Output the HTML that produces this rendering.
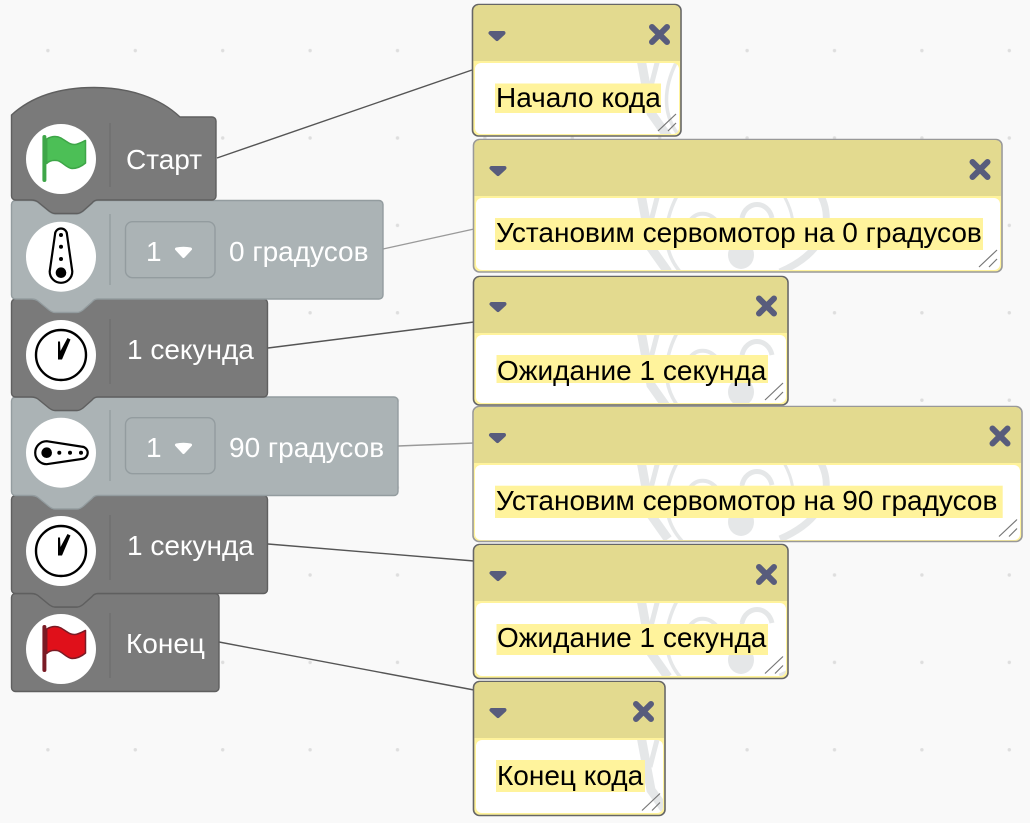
<!DOCTYPE html>
<html><head><meta charset="utf-8"><style>
html,body{margin:0;padding:0;background:#f9f9f9;width:1030px;height:823px;overflow:hidden}
svg{display:block;position:absolute;left:0;top:0}
.b{font-family:"Liberation Sans",sans-serif;font-size:28px;fill:#fff}
.c{font-family:"Liberation Sans",sans-serif;font-size:28px;fill:#000}
</style></head><body>
<svg width="1030" height="823" viewBox="0 0 1030 823" xmlns="http://www.w3.org/2000/svg">
<defs>
<pattern id="dots" x="47.9" y="50.6" width="87.4" height="87.4" patternUnits="userSpaceOnUse" patternTransform="translate(-43.7 -43.7)"><circle cx="43.7" cy="43.7" r="1.7" fill="#dedede"/></pattern>
<g id="caret"><path d="M3 3H16L9.500 9Z" fill="#585c7c" stroke="#585c7c" stroke-width="4" stroke-linejoin="round"/></g>
<g id="x"><path d="M-7.500 -7.500L7.500 7.500M7.500 -7.500L-7.500 7.500" stroke="#585c7c" stroke-width="6" stroke-linecap="round"/></g>
<g id="grip"><path d="M-23 -5L-5 -22M-13 -5L-5 -13" stroke="#777" stroke-width="1.200" fill="none"/></g>
<g id="wm" fill="none" stroke="#e5e7e8">
<path d="M641 54L651 108L668 132" stroke-width="9"/>
<path d="M658 54L650 85" stroke-width="5"/>
<path d="M678 54C664 80 660 110 682 134" stroke-width="3.500"/>
<path d="M688 84C694 70 712 70 720 86" stroke-width="4"/>
<path d="M742 78C746 60 768 60 772 78" stroke-width="5"/>
<path d="M742 78C740 95 738 105 735 115" stroke-width="4"/>
<ellipse cx="741" cy="115" rx="13" ry="14" fill="#e5e7e8" stroke="none"/>
<path d="M783 54C792 70 796 85 790 100" stroke-width="3"/>
<path d="M820 54C834 80 826 112 780 132" stroke-width="7"/>
</g>
<g id="clock"><circle r="25" fill="#fff" stroke="#000" stroke-width="2.400"/><path d="M-3 4.500L-3 -13.500L-1 -13.500L-0.500 -4L6.500 -17L9.500 -15.500L1 4.500Z" fill="#000"/></g>
<clipPath id="c1"><rect x="475" y="63" width="204" height="71" rx="6"/></clipPath>
<clipPath id="c2"><rect x="476" y="198" width="524" height="72" rx="6"/></clipPath>
<clipPath id="c3"><rect x="476" y="335" width="310" height="68" rx="6"/></clipPath>
<clipPath id="c4"><rect x="475" y="465" width="545" height="75" rx="6"/></clipPath>
<clipPath id="c5"><rect x="476" y="603" width="310" height="73" rx="6"/></clipPath>
<clipPath id="c6"><rect x="476" y="740" width="187" height="73" rx="6"/></clipPath>
</defs>
<rect width="1030" height="823" fill="#f9f9f9"/>
<rect width="1030" height="823" fill="url(#dots)"/>

<g fill="none" stroke-width="1.400">
<path d="M217 158L472 70" stroke="#555"/>
<path d="M383 249L474 229" stroke="#9a9a9a"/>
<path d="M268 348L474 322" stroke="#555"/>
<path d="M398 446L474 443" stroke="#9a9a9a"/>
<path d="M268 544L474 561" stroke="#555"/>
<path d="M219 642L474 690" stroke="#555"/>
</g>

<!-- blocks bottom to top -->
<path d="M11.500 597.500a4 4 0 0 1 4-4H31c3 0 5 .5 7 2l11 9c2 1.500 3.500 2.500 6 2.500H77c2.500 0 4-1 6-2.500l9-8c1.500-2 3.500-3 6-3H215a4 4 0 0 1 4 4V687.500a4 4 0 0 1-4 4H15.500a4 4 0 0 1-4-4Z" fill="#7a7a7a" stroke="#5f5f5f" stroke-width="1.400"/>
<path d="M11.500 499.500a4 4 0 0 1 4-4H31c3 0 5 .5 7 2l11 9c2 1.500 3.500 2.500 6 2.500H77c2.500 0 4-1 6-2.500l9-8c1.500-2 3.500-3 6-3H263.500a4 4 0 0 1 4 4V589.500a4 4 0 0 1-4 4H98c-2.500 0-4.500 1-6 3l-9 8c-2 1.500-3.500 2.500-6 2.500H55c-2.500 0-4-1-6-2.500l-11-9c-2-1.500-4-2-7-2H15.500a4 4 0 0 1-4-4Z" fill="#7a7a7a" stroke="#5f5f5f" stroke-width="1.400"/>
<path d="M11.500 401a4 4 0 0 1 4-4H31c3 0 5 .5 7 2l11 9c2 1.500 3.500 2.500 6 2.500H77c2.500 0 4-1 6-2.500l9-8c1.500-2 3.500-3 6-3H394a4 4 0 0 1 4 4V491.500a4 4 0 0 1-4 4H98c-2.500 0-4.500 1-6 3l-9 8c-2 1.500-3.500 2.500-6 2.500H55c-2.500 0-4-1-6-2.500l-11-9c-2-1.500-4-2-7-2H15.500a4 4 0 0 1-4-4Z" fill="#abb3b5" stroke="#939c9f" stroke-width="1.400"/>
<path d="M11.500 303a4 4 0 0 1 4-4H31c3 0 5 .5 7 2l11 9c2 1.500 3.500 2.500 6 2.500H77c2.500 0 4-1 6-2.500l9-8c1.500-2 3.500-3 6-3H263.500a4 4 0 0 1 4 4V393a4 4 0 0 1-4 4H98c-2.500 0-4.500 1-6 3l-9 8c-2 1.500-3.500 2.500-6 2.500H55c-2.500 0-4-1-6-2.500l-11-9c-2-1.500-4-2-7-2H15.500a4 4 0 0 1-4-4Z" fill="#7a7a7a" stroke="#5f5f5f" stroke-width="1.400"/>
<path d="M11.500 204.500a4 4 0 0 1 4-4H31c3 0 5 .5 7 2l11 9c2 1.500 3.500 2.500 6 2.500H77c2.500 0 4-1 6-2.500l9-8c1.500-2 3.500-3 6-3H379a4 4 0 0 1 4 4V295a4 4 0 0 1-4 4H98c-2.500 0-4.500 1-6 3l-9 8c-2 1.500-3.500 2.500-6 2.500H55c-2.500 0-4-1-6-2.500l-11-9c-2-1.500-4-2-7-2H15.500a4 4 0 0 1-4-4Z" fill="#abb3b5" stroke="#939c9f" stroke-width="1.400"/>
<path d="M11.500 115C30 98 56 87.500 94 87.500C130 87.500 160 98 180 117H212a4 4 0 0 1 4 4V196a4 4 0 0 1-4 4H98c-2.500 0-4.500 1-6 3l-9 8c-2 1.500-3.500 2.500-6 2.500H55c-2.500 0-4-1-6-2.500l-11-9c-2-1.500-4-2-7-2H15.500a4 4 0 0 1-4-4Z" fill="#7a7a7a" stroke="#5f5f5f" stroke-width="1.400"/>

<!-- dividers -->
<g stroke="#666" stroke-width="1" opacity=".75">
<path d="M110 123V187M110 319V384M110 515V580M110 613V678"/>
</g>
<path d="M110 214V285M110 410V481" stroke="#8b9497" stroke-width="1"/>

<!-- circles -->
<g fill="#fff">
<circle cx="61" cy="159" r="35"/><circle cx="61" cy="256.700" r="35"/><circle cx="61" cy="355" r="35"/>
<circle cx="61" cy="452.700" r="35"/><circle cx="61" cy="551" r="35"/><circle cx="61" cy="649" r="35"/>
</g>

<!-- start flag -->
<path d="M46.700 139C52 136 57 136 61 138C66 141 70 145 75 144.500C79 144 82 142 85.500 140.500V163C82 166 77 168.500 72 168.500C66 168 62 161 57 160.500C53 160 49 161 46.700 163.500Z" fill="#4cbf56" stroke="#3ea648" stroke-width="1.500" stroke-linejoin="round"/>
<path d="M44.400 137V180" stroke="#3ea648" stroke-width="4" stroke-linecap="round"/>
<!-- stop flag -->
<path d="M46.700 629C52 626 57 626 61 628C66 631 70 635 75 634.500C79 634 82 632 85.500 630.500V653C82 656 77 658.500 72 658.500C66 658 62 651 57 650.500C53 650 49 651 46.700 653.500Z" fill="#e0101a" stroke="#7a1b25" stroke-width="1.500" stroke-linejoin="round"/>
<path d="M44.400 627V670" stroke="#7a1b25" stroke-width="4" stroke-linecap="round"/>

<!-- servo vertical -->
<path d="M55 234.500A6 6 0 0 1 67 234.500L72.300 271.500A11.300 11.300 0 1 1 49.700 271.500Z" fill="#fff" stroke="#000" stroke-width="2.200"/>
<circle cx="61" cy="235" r="2"/><circle cx="61" cy="246.700" r="2"/><circle cx="61" cy="259" r="2"/><circle cx="61" cy="272.700" r="5.300"/>
<!-- servo horizontal -->
<path d="M46.700 441.200L81.500 446.600A6.200 6.200 0 0 1 81.500 459L46.700 464.200A11.500 11.500 0 0 1 46.700 441.200Z" fill="#fff" stroke="#000" stroke-width="2.200"/>
<circle cx="46.700" cy="452.700" r="5.300"/><circle cx="59.300" cy="452.700" r="2"/><circle cx="70" cy="452.700" r="2"/><circle cx="81" cy="452.700" r="2"/>
<!-- clocks -->
<use href="#clock" x="61" y="355"/><use href="#clock" x="61" y="551"/>

<!-- dropdowns -->
<g fill="#abb3b5" stroke="#939c9f" stroke-width="1.400">
<rect x="125.500" y="221.700" width="89.500" height="56" rx="7"/>
<rect x="125.500" y="417.700" width="89.500" height="56" rx="7"/>
</g>
<path d="M176.500 249Q183.500 247.500 190.500 249L183.500 256.500Z" fill="#ffffff" stroke="#ffffff" stroke-width="3" stroke-linejoin="round"/>
<path d="M176.500 445Q183.500 443.500 190.500 445L183.500 452.500Z" fill="#ffffff" stroke="#ffffff" stroke-width="3" stroke-linejoin="round"/>

<!-- block text -->
<text class="b" x="126" y="169">Старт</text>
<text class="b" x="146" y="261">1</text>
<text class="b" x="229" y="261">0 градусов</text>
<text class="b" x="127" y="359">1 секунда</text>
<text class="b" x="146" y="457">1</text>
<text class="b" x="229" y="457">90 градусов</text>
<text class="b" x="127" y="555">1 секунда</text>
<text class="b" x="126" y="653">Конец</text>

<!-- comment 1 -->
<rect x="472.500" y="4.500" width="208.500" height="131.500" rx="6" fill="#fff39c" stroke="#666" stroke-width="1.600"/>
<path d="M473.500 61V11a6 6 0 0 1 6-6H674a6 6 0 0 1 6 6V61Z" fill="#e3da8f"/>
<rect x="475" y="63" width="204" height="71" rx="6" fill="#fff"/>
<g clip-path="url(#c1)"><use href="#wm" y="5"/></g>
<rect x="495" y="83.500" width="166" height="29.500" fill="#fff39c"/>
<text class="c" x="496" y="107">Начало кода</text>
<use href="#caret" x="487.500" y="30"/><use href="#x" x="659.500" y="34.500"/><use href="#grip" x="681" y="136"/>

<!-- comment 2 -->
<rect x="473.500" y="139.500" width="528.500" height="132.500" rx="6" fill="#fff39c" stroke="#999" stroke-width="1.600"/>
<path d="M474.500 196V146a6 6 0 0 1 6-6H995a6 6 0 0 1 6 6V196Z" fill="#e3da8f"/>
<rect x="476" y="198" width="524" height="72" rx="6" fill="#fff"/>
<g clip-path="url(#c2)"><use href="#wm" y="140"/></g>
<rect x="495" y="218" width="488" height="32" fill="#fff39c"/>
<text class="c" x="496" y="242">Установим сервомотор на 0 градусов</text>
<use href="#caret" x="488.500" y="165"/><use href="#x" x="980" y="169.500"/><use href="#grip" x="1002" y="272"/>

<!-- comment 3 -->
<rect x="473.500" y="276.500" width="314.500" height="128.500" rx="6" fill="#fff39c" stroke="#666" stroke-width="1.600"/>
<path d="M474.500 333V283a6 6 0 0 1 6-6H781a6 6 0 0 1 6 6V333Z" fill="#e3da8f"/>
<rect x="476" y="335" width="310" height="68" rx="6" fill="#fff"/>
<g clip-path="url(#c3)"><use href="#wm" y="277"/></g>
<rect x="496.500" y="355" width="271.500" height="28" fill="#fff39c"/>
<text class="c" x="497" y="380">Ожидание 1 секунда</text>
<use href="#caret" x="488.500" y="301"/><use href="#x" x="766.500" y="306"/><use href="#grip" x="788" y="405"/>

<!-- comment 4 -->
<rect x="473" y="406.500" width="549" height="135" rx="6" fill="#fff39c" stroke="#999" stroke-width="1.600"/>
<path d="M474 463V413a6 6 0 0 1 6-6H1015a6 6 0 0 1 6 6V463Z" fill="#e3da8f"/>
<rect x="475" y="465" width="545" height="75" rx="6" fill="#fff"/>
<g clip-path="url(#c4)"><use href="#wm" y="407"/></g>
<rect x="495" y="485.700" width="507.700" height="32.300" fill="#fff39c"/>
<text class="c" x="496" y="510">Установим сервомотор на 90 градусов</text>
<use href="#caret" x="488" y="432"/><use href="#x" x="1000" y="436"/><use href="#grip" x="1022" y="541.500"/>

<!-- comment 5 -->
<rect x="473.500" y="544.500" width="314.500" height="134" rx="6" fill="#fff39c" stroke="#666" stroke-width="1.600"/>
<path d="M474.500 601V551a6 6 0 0 1 6-6H781a6 6 0 0 1 6 6V601Z" fill="#e3da8f"/>
<rect x="476" y="603" width="310" height="73" rx="6" fill="#fff"/>
<g clip-path="url(#c5)"><use href="#wm" y="545"/></g>
<rect x="496.500" y="624" width="271.500" height="31" fill="#fff39c"/>
<text class="c" x="497" y="647">Ожидание 1 секунда</text>
<use href="#caret" x="488.500" y="570"/><use href="#x" x="766.500" y="574.500"/><use href="#grip" x="788" y="678.500"/>

<!-- comment 6 -->
<rect x="473.500" y="681.500" width="191.500" height="134" rx="6" fill="#fff39c" stroke="#666" stroke-width="1.600"/>
<path d="M474.500 738V688a6 6 0 0 1 6-6H658a6 6 0 0 1 6 6V738Z" fill="#e3da8f"/>
<rect x="476" y="740" width="187" height="73" rx="6" fill="#fff"/>
<g clip-path="url(#c6)"><use href="#wm" y="682"/></g>
<rect x="496" y="760" width="149" height="32" fill="#fff39c"/>
<text class="c" x="497" y="785">Конец кода</text>
<use href="#caret" x="488.500" y="707"/><use href="#x" x="643.500" y="711.500"/><use href="#grip" x="665" y="815.500"/>
</svg>
</body></html>
